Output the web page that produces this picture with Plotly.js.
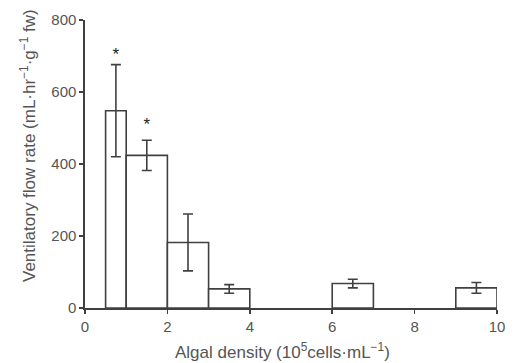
<!DOCTYPE html>
<html>
<head>
<meta charset="utf-8">
<script src="https://cdn.plot.ly/plotly-3.0.1.min.js"></script>
<style>html,body{margin:0;padding:0;background:#fff;}#chart{width:516px;height:363px;}</style>
</head>
<body>
<div id="chart"></div>
<script>
// Algal density bins (10^5 cells·mL^-1)
const binStart = [0.5, 1, 2, 3, 6, 9];
const binEnd   = [1, 2, 3, 4, 7, 10];
// Ventilatory flow rate means and SE
const flowRate = [548, 424, 182, 53, 68, 56];
const flowErr  = [128, 42, 79, 12, 12, 15];
// Significance markers
const sigX = [0.75, 1.5];
const sigY = [700, 505];
const sigText = ['*', '*'];
const xTicks = [0, 2, 4, 6, 8, 10];
const yTicks = [0, 200, 400, 600, 800];
const xTitle = 'Algal density (10<sup>5</sup>cells·mL<sup>−1</sup>)';
const yTitle = 'Ventilatory flow rate (mL·hr<sup>−1</sup>·g<sup>−1</sup> fw)';

const centers = binStart.map((s, i) => (s + binEnd[i]) / 2);
const widths = binStart.map((s, i) => binEnd[i] - s);

const lineCol = '#404040';
const textCol = '#555555';
const fam = 'Liberation Sans, Arial, Helvetica, sans-serif';

const traces = [
  {
    type: 'bar',
    x: centers,
    y: flowRate,
    width: widths,
    marker: {color: '#ffffff', line: {color: lineCol, width: 1.6}},
    error_y: {type: 'data', array: flowErr, visible: true, color: lineCol, thickness: 1.6, width: 5},
    hoverinfo: 'none'
  },
  {
    type: 'scatter',
    mode: 'text',
    x: sigX,
    y: sigY,
    text: sigText,
    textfont: {family: fam, size: 17, color: '#222'},
    hoverinfo: 'none'
  }
];

const layout = {
  width: 516,
  height: 363,
  margin: {l: 85, r: 19, t: 20, b: 55},
  paper_bgcolor: '#fff',
  plot_bgcolor: '#fff',
  showlegend: false,
  bargap: 0,
  font: {family: fam, size: 15, color: textCol},
  xaxis: {
    range: [0, 10],
    tickvals: xTicks,
    ticktext: xTicks.map(String),
    ticks: 'outside',
    ticklen: 4,
    tickwidth: 1.5,
    tickcolor: lineCol,
    showline: true,
    linecolor: lineCol,
    linewidth: 1.6,
    showgrid: false,
    zeroline: false,
    tickfont: {family: fam, size: 15, color: textCol}
  },
  yaxis: {
    range: [0, 800],
    tickvals: yTicks,
    ticktext: yTicks.map(String),
    ticks: 'outside',
    ticklen: 4,
    tickwidth: 1.5,
    tickcolor: lineCol,
    showline: true,
    linecolor: lineCol,
    linewidth: 1.6,
    showgrid: false,
    zeroline: false,
    tickfont: {family: fam, size: 15, color: textCol}
  },
  annotations: [
    {
      text: xTitle, xref: 'paper', yref: 'paper', x: (282 - 85) / 412, y: -(351 - 308) / 288,
      xanchor: 'center', yanchor: 'middle', showarrow: false,
      font: {family: fam, size: 17, color: textCol}
    },
    {
      text: yTitle, xref: 'paper', yref: 'paper', x: -(85 - 28) / 412, y: (308 - 146) / 288,
      xanchor: 'center', yanchor: 'middle', textangle: -90, showarrow: false,
      font: {family: fam, size: 17, color: textCol}
    }
  ]
};

Plotly.newPlot('chart', traces, layout, {displayModeBar: false, staticPlot: true});
</script>
</body>
</html>
